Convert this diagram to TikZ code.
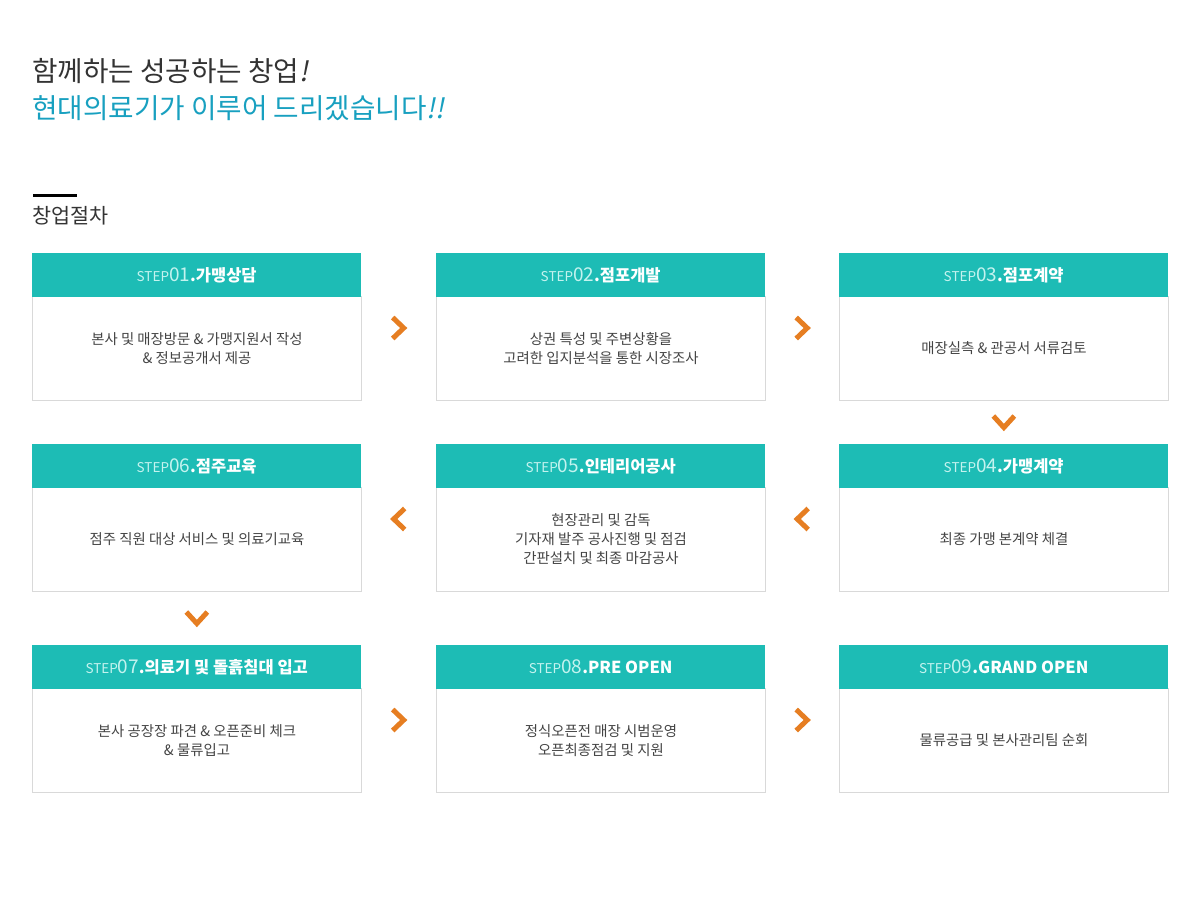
\documentclass[tikz,border=0pt]{standalone}
\usepackage{fontspec}
\setmainfont{Noto Sans CJK KR}
\newfontfamily\slantfont[FakeSlant=0.2]{Noto Sans CJK KR}
\usetikzlibrary{calc}
\definecolor{tealc}{HTML}{1DBCB5}
\definecolor{stepc}{HTML}{C4F3EF}
\definecolor{bordc}{HTML}{D9D9D9}
\definecolor{bodyc}{HTML}{444444}
\definecolor{darkc}{HTML}{333333}
\definecolor{bluec}{HTML}{18A0C0}
\definecolor{orngc}{HTML}{E67E22}
\newcommand{\stp}[2]{{\color{stepc}\fontsize{13.5}{14}\selectfont STEP}{\color{stepc}\fontsize{19}{20}\selectfont #1}{\bfseries .#2}}
\tikzset{
  hd/.style={fill=tealc, minimum width=329pt, minimum height=44pt, anchor=north west, inner sep=0pt, text=white, font=\fontsize{16.5}{18}\selectfont},
  bd/.style={draw=bordc, line width=1pt, fill=white, minimum width=329pt, minimum height=104pt, anchor=north west, inner sep=0pt, align=center, text=bodyc, font=\fontsize{14.4}{19}\selectfont},
  ttl/.style={anchor=base west, inner sep=0pt, font=\fontsize{27.7}{30}\selectfont},
  chevline/.style={draw=orngc, line width=5pt, line cap=butt, line join=miter},
  chevR/.pic={\draw[chevline] (-6,-10.5) -- (5,0) -- (-6,10.5);},
  chevL/.pic={\draw[chevline] (6,-10.5) -- (-5,0) -- (6,10.5);},
  chevD/.pic={\draw[chevline] (-10.5,-6.5) -- (0,5) -- (10.5,-6.5);}
}
\begin{document}
\begin{tikzpicture}[x=1pt,y=-1pt]
\useasboundingbox[fill=white] (0,0) rectangle (1200,900);
% titles
\node[ttl, text=darkc] (t1) at (32,81) {함께하는 성공하는 창업{\slantfont!}};
\node[ttl, text=bluec] (t2) at (32,118) {현대의료기가 이루어 드리겠습니다{\slantfont!!}};
\fill[black] (33,193.5) rectangle (77,196.5);
\node[anchor=base west, inner sep=0pt, text=darkc, font=\fontsize{20.7}{22}\selectfont] (t3) at (32,223) {창업절차};
% row 1
\node[bd] (b1) at (32,296) {본사 및 매장방문 \& 가맹지원서 작성\\\& 정보공개서 제공};
\node[hd] (h1) at (32,253) {\stp{01}{가맹상담}};
\node[bd] (b2) at (436,296) {상권 특성 및 주변상황을\\고려한 입지분석을 통한 시장조사};
\node[hd] (h2) at (436,253) {\stp{02}{점포개발}};
\node[bd] (b3) at (839,296) {매장실측 \& 관공서 서류검토};
\node[hd] (h3) at (839,253) {\stp{03}{점포계약}};
% row 2
\node[bd] (b6) at (32,487) {점주 직원 대상 서비스 및 의료기교육};
\node[hd] (h6) at (32,444) {\stp{06}{점주교육}};
\node[bd] (b5) at (436,487) {현장관리 및 감독\\기자재 발주 공사진행 및 점검\\간판설치 및 최종 마감공사};
\node[hd] (h5) at (436,444) {\stp{05}{인테리어공사}};
\node[bd] (b4) at (839,487) {최종 가맹 본계약 체결};
\node[hd] (h4) at (839,444) {\stp{04}{가맹계약}};
% row 3
\node[bd] (b7) at (32,688) {본사 공장장 파견 \& 오픈준비 체크\\\& 물류입고};
\node[hd] (h7) at (32,645) {\stp{07}{의료기 및 돌흙침대 입고}};
\node[bd] (b8) at (436,688) {정식오픈전 매장 시범운영\\오픈최종점검 및 지원};
\node[hd] (h8) at (436,645) {\stp{08}{PRE OPEN}};
\node[bd] (b9) at (839,688) {물류공급 및 본사관리팀 순회};
\node[hd] (h9) at (839,645) {\stp{09}{GRAND OPEN}};
% chevrons
\pic at ($(h1.north east)!0.5!(h2.north west)+(0,75)$) {chevR};
\pic at ($(h2.north east)!0.5!(h3.north west)+(0,75)$) {chevR};
\pic at ($(b3.south)!0.5!(h4.north)$) {chevD};
\pic at ($(h5.north east)!0.5!(h4.north west)+(0,75)$) {chevL};
\pic at ($(h6.north east)!0.5!(h5.north west)+(0,75)$) {chevL};
\pic at ($(b6.south)!0.5!(h7.north)$) {chevD};
\pic at ($(h7.north east)!0.5!(h8.north west)+(0,75)$) {chevR};
\pic at ($(h8.north east)!0.5!(h9.north west)+(0,75)$) {chevR};
\end{tikzpicture}
\end{document}
